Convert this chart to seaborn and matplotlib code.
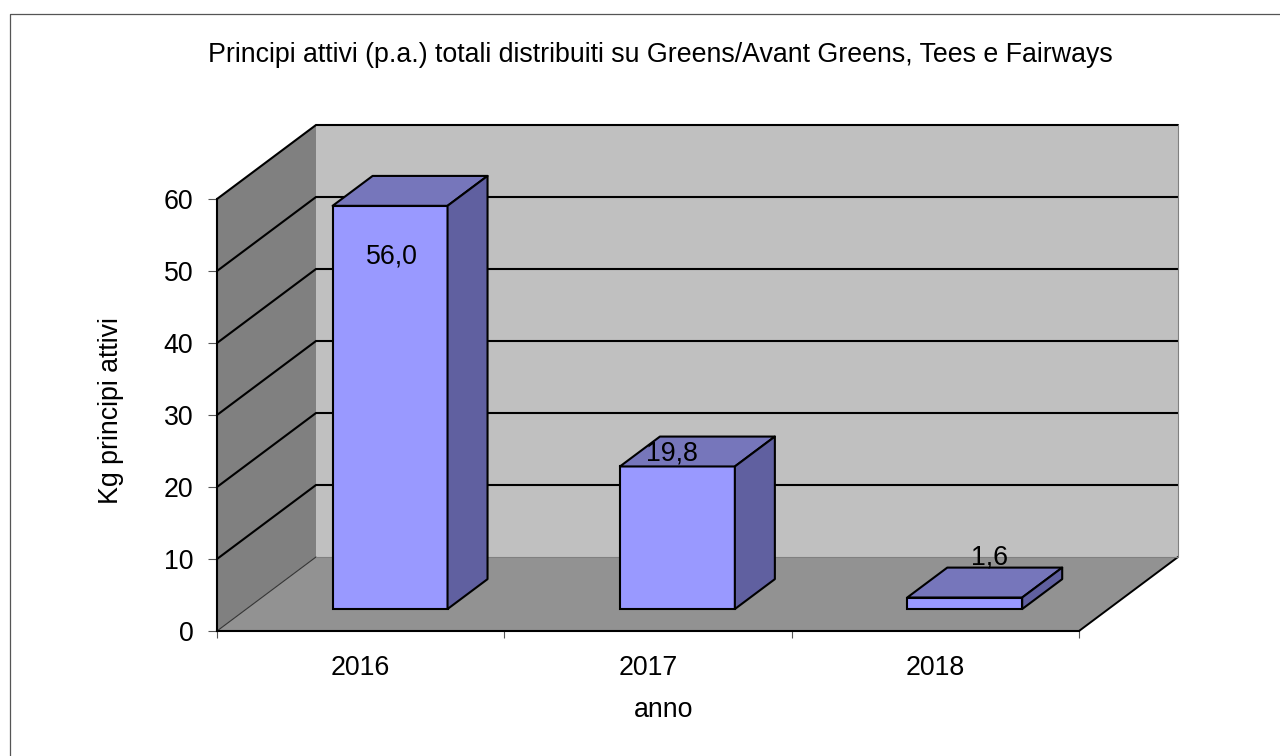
import matplotlib
matplotlib.use("Agg")
import matplotlib.pyplot as plt
import seaborn as sns
import pandas as pd
from matplotlib.lines import Line2D
from matplotlib.transforms import Affine2D

years = ["2016", "2017", "2018"]
kg_values = [56.0, 19.8, 1.6]
value_labels = ["56,0", "19,8", "1,6"]
y_ticks = [0, 10, 20, 30, 40, 50, 60]

sns.set_theme(style="white")
plt.rcParams["font.family"] = ["Liberation Sans", "DejaVu Sans"]
FONT_SIZE = 19.25

W, H = 1280, 756
fig = plt.figure(figsize=(W / 100, H / 100), dpi=100, facecolor="white")
# plot box of the front plane, in figure pixels
left, right, top, bottom = 217, 1079, 199, 631
ax = fig.add_axes([left / W, 1 - bottom / H, (right - left) / W, (bottom - top) / H])
ax.patch.set_visible(False)

df = pd.DataFrame({"anno": years, "kg": kg_values})
sns.barplot(data=df, x="anno", y="kg", color="#9999FF", saturation=1, width=0.4,
            edgecolor="black", linewidth=1.5, ax=ax, zorder=5)
bars = list(ax.patches)
ax.set_xlim(-0.5, 2.5)
ax.set_ylim(0, 60)

# oblique projection: one full unit of depth moves this far in data units
depth_x = 99 / ((right - left) / 3)
depth_y = 74 / ((bottom - top) / 60)
x0, x1 = -0.5, 2.5

# walls and floor
ax.fill([x0, x0 + depth_x, x0 + depth_x, x0], [0, depth_y, 60 + depth_y, 60],
        color="#808080", lw=0, clip_on=False, zorder=1)
ax.fill([x0 + depth_x, x1 + depth_x, x1 + depth_x, x0 + depth_x],
        [depth_y, depth_y, 60 + depth_y, 60 + depth_y],
        color="#C0C0C0", lw=0, clip_on=False, zorder=1)
ax.fill([x0, x1, x1 + depth_x, x0 + depth_x], [0, 0, depth_y, depth_y],
        color="#929292", lw=0, clip_on=False, zorder=1.5)

# gridlines running along the side wall and the back wall
for v in y_ticks[1:]:
    ax.plot([x0, x0 + depth_x, x1 + depth_x], [v, v + depth_y, v + depth_y],
            color="black", lw=1.5, clip_on=False, zorder=2, solid_joinstyle="miter")
ax.plot([x0, x0 + depth_x], [0, depth_y], color="#333333", lw=0.8, clip_on=False, zorder=2)
ax.plot([x1, x1 + depth_x], [0, depth_y], color="black", lw=1.4, clip_on=False, zorder=2)
ax.plot([x0 + depth_x, x1 + depth_x], [depth_y, depth_y], color="#808080", lw=0.8,
        clip_on=False, zorder=2)
ax.plot([x1 + depth_x, x1 + depth_x], [depth_y, 60 + depth_y], color="#808080", lw=0.8,
        clip_on=False, zorder=2)

# bars stand a little way in from the front edge and have a fixed depth
bar_start = 0.297
bar_depth = 0.404
sx, sy = depth_x * bar_start, depth_y * bar_start
bx, by = depth_x * bar_depth, depth_y * bar_depth
shift = Affine2D().translate(sx, sy) + ax.transData
for patch in bars:
    patch.set_transform(shift)
    patch.set_clip_on(False)
    xa, xb, v = patch.get_x(), patch.get_x() + patch.get_width(), patch.get_height()
    ax.fill([xa, xb, xb + bx, xa + bx], [v, v, v + by, v + by], transform=shift,
            facecolor="#7676BB", edgecolor="black", lw=1.5, clip_on=False, zorder=5,
            joinstyle="round")
    ax.fill([xb, xb + bx, xb + bx, xb], [0, by, v + by, v], transform=shift,
            facecolor="#6060A0", edgecolor="black", lw=1.5, clip_on=False, zorder=5,
            joinstyle="round")

# value labels sit beside their bar tops, nudged case by case (points)
nudges = [(1, -36.5), (-4, 9.5), (18, 28.5)]
for i, (v, txt, nudge) in enumerate(zip(kg_values, value_labels, nudges)):
    ax.annotate(txt, xy=(i, v), xycoords=shift, xytext=nudge, textcoords="offset points",
                ha="center", va="center", fontsize=FONT_SIZE, color="black", zorder=8)

# axes
for name in ("top", "right"):
    ax.spines[name].set_visible(False)
for name in ("left", "bottom"):
    ax.spines[name].set_color("black")
    ax.spines[name].set_linewidth(1.5)
    ax.spines[name].set_zorder(3)
ax.set_yticks(y_ticks)
ax.set_yticklabels([str(t) for t in y_ticks], fontsize=FONT_SIZE, color="black")
ax.set_xticks([-0.5, 0.5, 1.5, 2.5], labels=[])
ax.set_xticks([0, 1, 2], labels=years, minor=True, fontsize=FONT_SIZE, color="black")
ax.tick_params(axis="y", which="major", left=True, length=6.5, width=0.8, color="#555555", pad=10.5)
ax.tick_params(axis="x", which="major", bottom=True, length=5, width=0.8, color="#555555")
ax.tick_params(axis="x", which="minor", bottom=False, length=0, pad=17)
ax.set_xlabel("anno", fontsize=FONT_SIZE, color="black")
ax.xaxis.set_label_coords((664 - left) / (right - left), (bottom - 710) / (bottom - top))
ax.xaxis.label.set_verticalalignment("center")
ax.set_ylabel("Kg principi attivi", fontsize=FONT_SIZE, color="black")
ax.yaxis.set_label_coords((111 - left) / (right - left), (bottom - 411) / (bottom - top))
ax.yaxis.label.set_verticalalignment("center")

fig.text(660 / W, 1 - 55 / H, "Principi attivi (p.a.) totali distribuiti su Greens/Avant Greens, Tees e Fairways",
         ha="center", va="center", fontsize=FONT_SIZE, color="black")

# chart frame, only its top and left edges fall inside the canvas
fig.add_artist(Line2D([10 / W, 10 / W, 1], [0, 1 - 13.5 / H, 1 - 13.5 / H],
                      color="#555555", lw=0.9, transform=fig.transFigure))

fig.savefig("out.png", dpi=100, facecolor="white")
